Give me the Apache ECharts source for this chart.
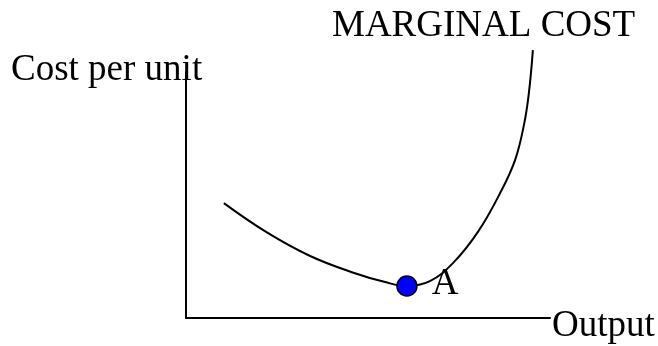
<!DOCTYPE html>
<html>
<head>
<meta charset="utf-8">
<script src="https://cdn.jsdelivr.net/npm/echarts@6/dist/echarts.min.js"></script>
<style>html,body{margin:0;padding:0;background:#fff}#c{width:658px;height:346px}</style>
</head>
<body>
<div id="c"></div>
<script>
// Marginal cost curve (x: output, y: cost per unit)
const curveX = [10.4, 22.0, 34.1, 46.2, 54.7, 60.7, 67.0, 73.4, 80.2, 86.3, 90.4, 92.9, 94.2, 95.3];
const curveY = [46.7, 35.0, 25.2, 18.3, 14.6, 13.0, 15.0, 22.4, 35.0, 50.8, 64.2, 78.9, 91.5, 108.9];
const pointA = [60.7, 13.0];
const pointLabel = 'A';
const curveName = 'MARGINAL COST';
const yAxisName = 'Cost per unit';
const xAxisName = 'Output';

const font = '"Liberation Serif", "Times New Roman", serif';
const chart = echarts.init(document.getElementById('c'), null, {renderer: 'canvas'});
chart.setOption({
  animation: false,
  backgroundColor: '#ffffff',
  grid: {left: 186, right: 108, top: 72, bottom: 28},
  xAxis: {
    type: 'value', min: 0, max: 100,
    axisLine: {show: true, onZero: false, lineStyle: {color: '#000', width: 2}},
    axisTick: {show: false}, axisLabel: {show: false}, splitLine: {show: false}
  },
  yAxis: {
    type: 'value', min: 0, max: 100,
    axisLine: {show: true, onZero: false, lineStyle: {color: '#000', width: 2}},
    axisTick: {show: false}, axisLabel: {show: false}, splitLine: {show: false}
  },
  series: [
    {
      type: 'line', name: curveName,
      data: curveX.map((x, i) => [x, curveY[i]]),
      smooth: 0.4, clip: false, symbol: 'none',
      lineStyle: {color: '#000', width: 2}
    },
    {
      type: 'scatter', data: [pointA], symbol: 'circle', symbolSize: 20, z: 5,
      itemStyle: {color: '#0000ff', borderColor: '#000', borderWidth: 1.5, opacity: 1},
      label: {show: true, formatter: pointLabel, position: 'right', distance: 14, offset: [0, -2],
        color: '#000', fontFamily: font, fontSize: 37}
    }
  ],
  graphic: [
    {type: 'text', left: 332, top: 8, style: {text: curveName, font: '37px ' + font, fill: '#000'}},
    {type: 'text', left: 11, top: 52, style: {text: yAxisName, font: '37px ' + font, fill: '#000'}},
    {type: 'text', left: 552, top: 308, style: {text: xAxisName, font: '37px ' + font, fill: '#000'}}
  ]
});
</script>
</body>
</html>
